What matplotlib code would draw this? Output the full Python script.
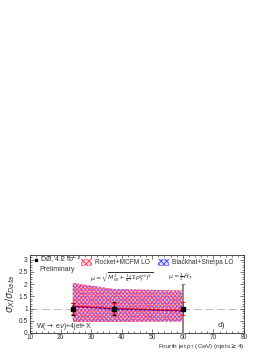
import matplotlib
matplotlib.use('Agg')
import matplotlib.pyplot as plt
import numpy as np
from matplotlib.patches import Patch
from matplotlib.ticker import MultipleLocator, FuncFormatter

plt.rcParams['font.family'] = ['Liberation Sans', 'DejaVu Sans']
plt.rcParams['hatch.linewidth'] = 0.7

# data points (ratio to data)
jet_pt = [24.0, 37.5, 60.0]
data_y = [1.0, 1.0, 1.0]
err_tot_lo = [0.25, 0.26, 1.0]
err_tot_hi = [0.24, 0.27, 1.0]
err_stat = [0.22, 0.24, 0.25]

# theory bands
rocket_mid = [1.10, 1.00, 0.92]
blackhat_mid = [1.08, 0.98, 0.90]
band_hi = [2.05, 1.80, 1.74]
band_lo = [0.45, 0.45, 0.47]

fig = plt.figure(figsize=(2.72, 3.52), dpi=100)
ax = fig.add_axes([0.110, 0.054, 0.787, 0.222])

ax.axhline(1.0, color='#bbbbbb', lw=0.7, ls=(0, (8, 4)), zorder=1)

ax.fill_between(jet_pt, band_lo, band_hi, facecolor='#f2c0e4', edgecolor='#ff4a6a',
                hatch='xxxxxxxx', lw=0, zorder=2)
ax.fill_between(jet_pt, band_lo, band_hi, facecolor='none', edgecolor='#6a5aff',
                hatch='.....', lw=0, zorder=2)
ax.plot(jet_pt, rocket_mid, color='red', lw=1.0, zorder=3)
ax.plot(jet_pt, blackhat_mid, color='blue', lw=0.8, ls=(0, (2, 2)), zorder=3)

# last point total error is grey
ax.errorbar(jet_pt[:2], data_y[:2], yerr=[err_tot_lo[:2], err_tot_hi[:2]], fmt='none',
            ecolor='black', elinewidth=0.8, capsize=1.5, capthick=0.8, zorder=4)
ax.errorbar(jet_pt[2:], data_y[2:], yerr=[err_tot_lo[2:], err_tot_hi[2:]], fmt='none',
            ecolor='#888888', elinewidth=1.4, capsize=1.5, capthick=0.8, zorder=4)
ax.errorbar(jet_pt, data_y, yerr=err_stat, fmt='none', ecolor='red',
            elinewidth=0.6, capsize=1.5, capthick=0.6, zorder=5)
ax.plot(jet_pt, data_y, 'ks', ms=2.5, zorder=6)

ax.set_xlim(10, 80)
ax.set_ylim(0, 3.2)
ax.xaxis.set_major_locator(MultipleLocator(10))
ax.xaxis.set_minor_locator(MultipleLocator(2))
ax.yaxis.set_major_locator(MultipleLocator(0.5))
ax.yaxis.set_minor_locator(MultipleLocator(0.1))
ax.yaxis.set_major_formatter(FuncFormatter(lambda v, p: '%g' % v))
ax.tick_params(which='both', direction='in', top=True, right=True, labelsize=4.8,
               width=0.5, color='#444444', labelcolor='#333333')
ax.tick_params(axis='x', pad=0.5)
ax.tick_params(axis='y', pad=1.5)
ax.tick_params(which='major', length=3)
ax.tick_params(which='minor', length=1.5)
for s in ax.spines.values():
    s.set_linewidth(0.6)
    s.set_color('#333333')

tc = '#333333'
ax.set_ylabel(r'$\sigma_X/\sigma_{Data}$', fontsize=7, labelpad=1, color=tc)
fig.text(0.897, 0.003, r'Fourth jet p$_\mathregular{T}$ (GeV) (njets$\geq$4)', fontsize=4.6,
         ha='right', va='bottom', color=tc)

ax.plot([12.0], [2.98], 'ks', ms=2.0)
ax.text(13.2, 2.98, r'DØ, 4.2 fb$^{-1}$', fontsize=5, va='center', color=tc)
ax.text(13.2, 2.62, 'Preliminary', fontsize=5, va='center', color=tc)

handles = [Patch(facecolor='#ffe0e8', edgecolor='#ff4a6a', hatch='xxxxxx', lw=0),
           Patch(facecolor='#e0e0ff', edgecolor='#5050ff', hatch='xxxxxx', lw=0)]
leg1 = ax.legend([handles[0]], ['Rocket+MCFM LO'], loc='upper left',
                 bbox_to_anchor=(0.21, 1.03), frameon=False, fontsize=4.8,
                 handlelength=1.7, handleheight=1.3, handletextpad=0.4,
                 labelcolor=tc)
ax.add_artist(leg1)
ax.legend([handles[1]], ['Blackhat+Sherpa LO'], loc='upper left',
          bbox_to_anchor=(0.57, 1.03), frameon=False, fontsize=4.8,
          handlelength=1.7, handleheight=1.3, handletextpad=0.4, labelcolor=tc)

ax.text(29.5, 2.3, r'$\mu=\sqrt{M_W^2+\frac{1}{4}(\Sigma p_T^{jet})^2}$', fontsize=4.5,
        va='center', color=tc)
ax.text(55.0, 2.3, r'$\mu=\frac{1}{2}\hat{H}_T$', fontsize=4.5, va='center', color=tc)
ax.text(12.0, 0.28, r'W($\rightarrow$ e$\nu$)+4jet+X', fontsize=5, va='center', color=tc)
ax.text(71.5, 0.32, 'd)', fontsize=6, va='center', color=tc)

fig.savefig('out.png', dpi=100)
